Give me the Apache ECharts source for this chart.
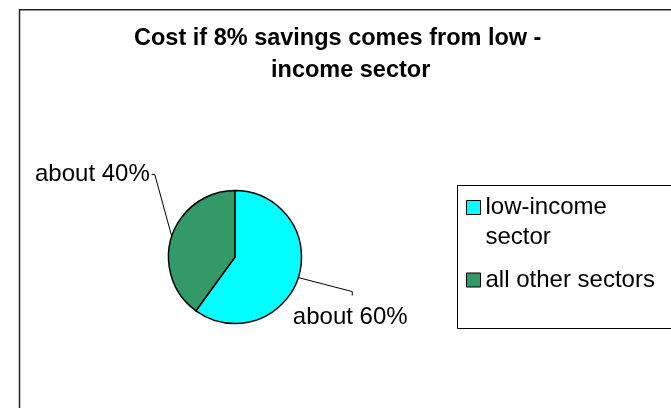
<!DOCTYPE html>
<html>
<head>
<meta charset="utf-8">
<script src="https://cdn.jsdelivr.net/npm/echarts@6/dist/echarts.min.js"></script>
<style>
html,body{margin:0;padding:0;background:#fff;}
#chart{width:671px;height:408px;}
</style>
</head>
<body>
<div id="chart"></div>
<script>
var categories = ['low-income sector', 'all other sectors'];
var legendLabels = ['\nlow-income\nsector', 'all other sectors'];
var shares = [60, 40];
var colors = ['#00FFFF', '#339966'];
var titleLines = ['Cost if 8% savings comes from low -', 'income sector'];

var FONT = 'Liberation Sans, Arial, sans-serif';
var chart = echarts.init(document.getElementById('chart'), null, {renderer: 'canvas'});

var pieData = categories.map(function (c, i) {
  return {name: c, value: shares[i], itemStyle: {color: colors[i]}};
});

var option = {
  backgroundColor: '#fff',
  animation: false,
  title: [
    {text: titleLines[0], left: 134, top: 27, padding: 0,
     textStyle: {fontFamily: FONT, fontWeight: 'bold', fontSize: 23.5, color: '#000'}},
    {text: titleLines[1], left: 271, top: 59, padding: 0,
     textStyle: {fontFamily: FONT, fontWeight: 'bold', fontSize: 23.5, color: '#000'}}
  ],
  graphic: [
    {type: 'rect', silent: true, z: -1,
     shape: {x: 19.5, y: 9.8, width: 720, height: 500},
     style: {fill: 'none', stroke: '#222', lineWidth: 1.5}},
    {type: 'rect', silent: true, z: -1,
     shape: {x: 457.5, y: 185.5, width: 300, height: 143},
     style: {fill: 'none', stroke: '#000', lineWidth: 1}}
  ],
  legend: {
    orient: 'vertical',
    left: 466,
    top: 162.5,
    padding: 0,
    itemGap: 12.5,
    itemWidth: 14,
    itemHeight: 14,
    icon: 'rect',
    selectedMode: false,
    itemStyle: {borderColor: '#000', borderWidth: 1},
    textStyle: {fontFamily: FONT, fontSize: 24, lineHeight: 30, color: '#000'},
    formatter: function (name) {
      return legendLabels[categories.indexOf(name)];
    },
    data: categories
  },
  series: [{
    type: 'pie',
    center: [235, 257],
    radius: 66.5,
    startAngle: 90,
    clockwise: true,
    avoidLabelOverlap: false,
    itemStyle: {borderColor: '#000', borderWidth: 1.5},
    emphasis: {disabled: true},
    label: {
      show: true,
      position: 'outside',
      formatter: 'about {d}%',
      fontFamily: FONT,
      fontSize: 24,
      color: '#000'
    },
    labelLine: {show: true, length: 10, length2: 5, smooth: false,
      lineStyle: {color: '#000', width: 1}},
    labelLayout: function (params) {
      var pts = params.labelLinePoints;
      if (!pts) return {};
      var p0 = pts[0];
      var p1, p2, res;
      if (params.dataIndex === 1) {
        p1 = [p0[0] - 17, p0[1] - 62];
        p2 = [p1[0] - 3, p1[1]];
        res = {x: p2[0] - 2, y: p2[1], align: 'right', verticalAlign: 'middle'};
      } else {
        p1 = [p0[0] + 54, p0[1] + 14];
        p2 = [p1[0], p1[1] + 4];
        res = {x: p2[0] - 2, y: p2[1] + 22, align: 'center', verticalAlign: 'middle'};
      }
      res.labelLinePoints = [p0, p1, p2];
      return res;
    },
    data: pieData
  }]
};
chart.setOption(option);
</script>
</body>
</html>
